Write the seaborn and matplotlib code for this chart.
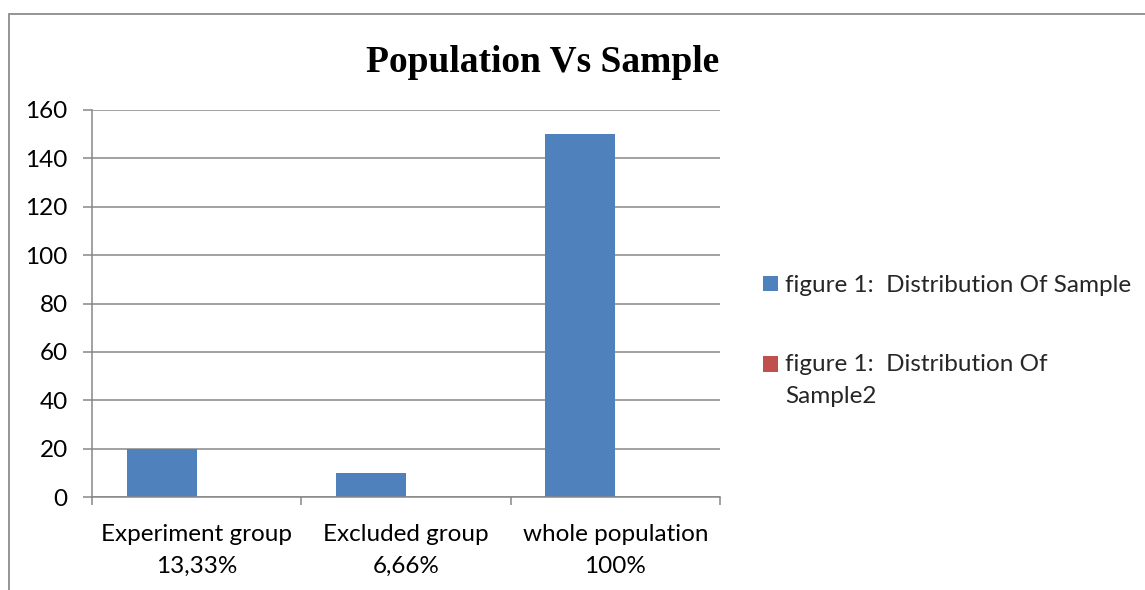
import matplotlib
matplotlib.use("Agg")
import matplotlib.pyplot as plt
from matplotlib.patches import Patch, Rectangle
from matplotlib.legend_handler import HandlerPatch
import pandas as pd
import seaborn as sns

# Data
categories = ["Experiment group\n13,33%", "Excluded group\n6,66%", "whole population\n100%"]
series_names = ["figure 1:  Distribution Of Sample", "figure 1:  Distribution Of\nSample2"]
sample_values = [20, 10, 150]
sample2_values = [0, 0, 0]
y_ticks = [0, 20, 40, 60, 80, 100, 120, 140, 160]
colors = ["#4F81BD", "#C0504D"]
title = "Population Vs Sample"

df = pd.DataFrame({
    "category": categories * 2,
    "series": [series_names[0]] * 3 + [series_names[1]] * 3,
    "value": sample_values + sample2_values,
})

sns.set_theme(style="white")
plt.rcParams["font.family"] = ["Lato", "DejaVu Sans"]

GRID = "#878787"
FS = 17.5
LINESP = 1.65

fig = plt.figure(figsize=(11.45, 5.9), dpi=100)
ax = fig.add_axes([92 / 1145, 1 - 497 / 590, (720 - 92) / 1145, (497 - 110) / 590])

sns.barplot(data=df, x="category", y="value", hue="series", hue_order=series_names,
            order=categories, palette=colors, width=0.668, saturation=1,
            edgecolor="none", linewidth=0, ax=ax, legend=False)

ax.set_xlim(-0.5, 2.5)
ax.set_ylim(0, 160)
ax.set_yticks(y_ticks)
ax.set_yticklabels([str(v) for v in y_ticks], fontsize=FS, color="black")
ax.yaxis.grid(True, color=GRID, linewidth=1.1)
ax.set_axisbelow(True)
ax.set_xlabel("")
ax.set_ylabel("")

# Category labels without ticks; boundary ticks as minor ticks
ax.set_xticks(range(len(categories)))
ax.set_xticklabels(categories, fontsize=FS, color="black", linespacing=LINESP)
ax.tick_params(axis="x", which="major", length=0, pad=19.5)
ax.set_xticks([-0.5, 0.5, 1.5, 2.5], minor=True)
ax.tick_params(axis="x", which="minor", length=6, width=1.1, color=GRID, direction="out", bottom=True)
ax.tick_params(axis="y", which="major", length=6.5, width=1.1, color=GRID, direction="out", left=True, pad=11)

for side in ["top", "right"]:
    ax.spines[side].set_visible(False)
for side in ["left", "bottom"]:
    ax.spines[side].set_color(GRID)
    ax.spines[side].set_linewidth(1.1)

# Chart title
fig.text(543 / 1145, 1 - 63 / 590, title, ha="center", va="center",
         fontsize=27, fontweight="bold", family="Liberation Serif", color="black")


class TopAlignedHandler(HandlerPatch):
    """Square swatch aligned with the first line of a wrapped label."""

    def __init__(self, shift=0.0, **kw):
        super().__init__(**kw)
        self.shift = shift

    def create_artists(self, legend, orig_handle, xdescent, ydescent, width, height, fontsize, trans):
        p = Rectangle((-xdescent, -ydescent + self.shift), width, height,
                      facecolor=orig_handle.get_facecolor(), edgecolor="none")
        p.set_transform(trans)
        return [p]


handles = [Patch(facecolor=c, edgecolor="none") for c in colors]
line_px = 34
leg = fig.legend(handles, series_names, loc="upper left",
                 bbox_to_anchor=(763 / 1145, 1 - 275 / 590),
                 frameon=False, fontsize=FS, handlelength=0.62, handleheight=0.62,
                 handletextpad=0.3, labelspacing=2.4, borderpad=0, borderaxespad=0,
                 handler_map={handles[0]: TopAlignedHandler(0.0),
                              handles[1]: TopAlignedHandler(line_px / 2 * 0.72)})
for t in leg.get_texts():
    t.set_linespacing(LINESP)

# Outer chart border (top and left edges visible)
fig.add_artist(Rectangle((9 / 1145, -0.5), 2.0, 0.5 + (1 - 14 / 590), transform=fig.transFigure,
                         fill=False, edgecolor="#8c8c8c", linewidth=1.3))

fig.savefig("out.png", dpi=100)
